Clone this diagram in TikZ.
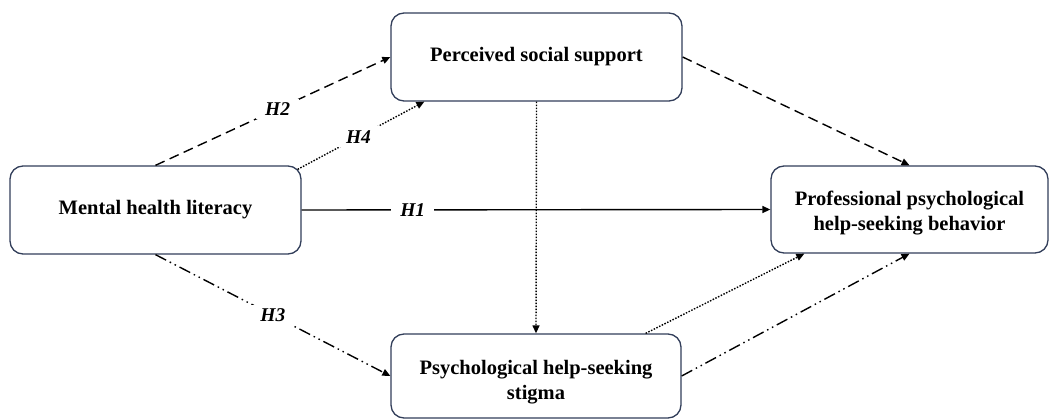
\documentclass[tikz,border=0pt]{standalone}
\usepackage{fontspec}
\setmainfont{Liberation Serif}
\usetikzlibrary{arrows.meta,calc}
\definecolor{boxline}{RGB}{50,62,90}
\tikzset{
  box/.style={draw=boxline, line width=1.3pt, rounded corners=13pt, fill=white,
    inner sep=0pt, align=center, font=\fontsize{20.5}{25}\selectfont\bfseries},
  conn/.style={line width=1.4pt, black, -{Triangle[length=8pt,width=7pt]}},
  dashedconn/.style={conn, dash pattern=on 10pt off 5.5pt},
  dottedconn/.style={conn, dash pattern=on 1.5pt off 1.5pt},
  dddconn/.style={conn, dash pattern=on 12pt off 4pt on 1.5pt off 4pt on 1.5pt off 4pt},
  hlabel/.style={fill=white, inner xsep=9pt, inner ysep=4pt, font=\fontsize{19.5}{22}\selectfont\bfseries\itshape}
}
\begin{document}
\begin{tikzpicture}[x=1pt,y=-1pt]
\useasboundingbox (0,0) rectangle (1049,419);
\node[box, minimum width=291pt, minimum height=88pt] (mhl) at (155.5,210) {Mental health literacy};
\node[box, minimum width=291pt, minimum height=88pt] (pss) at (536.5,57) {Perceived social support};
\node[box, minimum width=277pt, minimum height=87pt, text height=47pt, text depth=4pt] (prof) at (909.5,209.5) {Professional psychological\\help-seeking behavior};
\node[box, minimum width=290pt, minimum height=84pt, text height=51pt, text depth=4pt] (stig) at (536,376) {Psychological help-seeking\\stigma};
\coordinate (h4s) at ($(mhl.north east)+(-4,4)$);
\coordinate (h4e) at ($(pss.south west)+(34,0)$);
\coordinate (s2s) at ($(stig.north east)+(-36,0)$);
\coordinate (s2e) at ($(prof.south west)+(34,0)$);
\draw[conn] (mhl.east) -- node[hlabel, pos=0.237] {H1} (prof.west);
\draw[dashedconn] (mhl.north) -- node[hlabel, pos=0.52] {H2} (pss.west);
\draw[dottedconn] (h4s) -- node[hlabel, pos=0.48] {H4} (h4e);
\draw[dddconn] (mhl.south) -- node[hlabel, pos=0.5] {H3} (stig.west);
\draw[dottedconn] (pss.south) -- (stig.north);
\draw[dashedconn] (pss.east) -- (prof.north);
\draw[dottedconn] (s2s) -- (s2e);
\draw[dddconn] (stig.east) -- (prof.south);
\end{tikzpicture}
\end{document}
